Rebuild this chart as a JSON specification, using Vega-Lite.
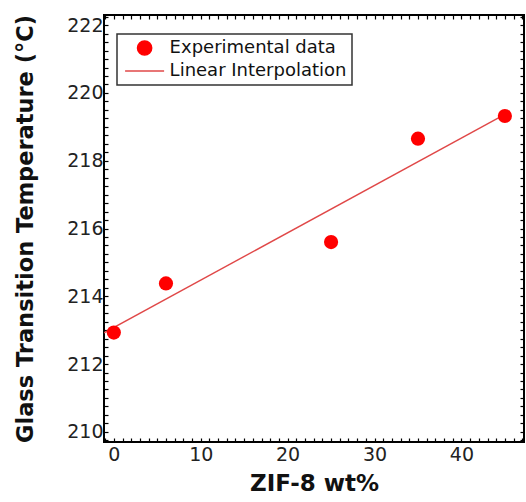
{
  "$schema": "https://vega.github.io/schema/vega-lite/v6.json",
  "width": 420,
  "height": 427,
  "autosize": {"type": "none"},
  "padding": {"left": 104, "top": 15, "right": 2, "bottom": 60},
  "background": "white",
  "config": {
    "view": {"stroke": "#000", "strokeWidth": 2},
    "font": "DejaVu Sans"
  },
  "datasets": {
    "points": [
      {"wt": 0, "tg": 212.93, "series": "Experimental data"},
      {"wt": 6, "tg": 214.38, "series": "Experimental data"},
      {"wt": 25, "tg": 215.6, "series": "Experimental data"},
      {"wt": 35, "tg": 218.65, "series": "Experimental data"},
      {"wt": 45, "tg": 219.32, "series": "Experimental data"}
    ],
    "fit": [
      {"wt": -1.13, "tg": 212.92, "series": "Linear Interpolation"},
      {"wt": 45, "tg": 219.37, "series": "Linear Interpolation"}
    ]
  },
  "resolve": {"axis": {"x": "independent", "y": "independent"}},
  "layer": [
    {
      "data": {"name": "fit"},
      "mark": {"type": "line", "strokeWidth": 1.4, "clip": true},
      "encoding": {
        "x": {
          "field": "wt", "type": "quantitative",
          "scale": {"domain": [-1.13, 47.2], "nice": false, "zero": false},
          "axis": {
            "orient": "top", "labels": false, "title": null, "domain": false, "grid": false,
            "tickSize": -4, "tickColor": "#000", "tickWidth": 1.2,
            "values": [-1,0,1,2,3,4,5,6,7,8,9,10,11,12,13,14,15,16,17,18,19,20,21,22,23,24,25,26,27,28,29,30,31,32,33,34,35,36,37,38,39,40,41,42,43,44,45,46,47],
            "encode": {"ticks": {"update": {"y2": {"signal": "datum.value % 10 === 0 ? 8 : (datum.value % 5 === 0 ? 6 : 4)"}}}}
          }
        },
        "y": {
          "field": "tg", "type": "quantitative",
          "scale": {"domain": [209.7, 222.3], "nice": false, "zero": false},
          "axis": {
            "orient": "right", "labels": false, "title": null, "domain": false, "grid": false,
            "tickSize": -4, "tickColor": "#000", "tickWidth": 1.2,
            "values": [209.75,210,210.25,210.5,210.75,211,211.25,211.5,211.75,212,212.25,212.5,212.75,213,213.25,213.5,213.75,214,214.25,214.5,214.75,215,215.25,215.5,215.75,216,216.25,216.5,216.75,217,217.25,217.5,217.75,218,218.25,218.5,218.75,219,219.25,219.5,219.75,220,220.25,220.5,220.75,221,221.25,221.5,221.75,222,222.25],
            "encode": {"ticks": {"update": {"x2": {"signal": "datum.value % 2 === 0 ? -8 : (datum.value % 1 === 0 ? -6 : -4)"}}}}
          }
        },
        "color": {
          "field": "series", "type": "nominal",
          "scale": {"domain": ["Experimental data", "Linear Interpolation"], "range": ["#ff0000", "#e04848"]},
          "legend": {
            "title": null,
            "orient": "none", "legendX": 13, "legendY": 19,
            "padding": 5, "rowPadding": 3, "labelLimit": 300,
            "symbolSize": 201, "symbolOffset": 13.6, "labelOffset": 16,
            "labelFontSize": 18, "labelColor": "#111",
            "strokeColor": "#333", "fillColor": "white",
            "encode": {
              "legend": {"update": {"strokeWidth": {"value": 1.5}}},
              "symbols": {"update": {
                "shape": {"signal": "datum.value === 'Linear Interpolation' ? 'stroke' : 'circle'"},
                "size": {"signal": "datum.value === 'Linear Interpolation' ? 1521 : 201"},
                "fill": {"signal": "datum.value === 'Linear Interpolation' ? 'transparent' : '#ff0000'"},
                "stroke": {"signal": "datum.value === 'Linear Interpolation' ? '#e04848' : 'transparent'"},
                "strokeWidth": {"value": 1.5},
                "opacity": {"value": 1}
              }}
            }
          }
        }
      }
    },
    {
      "data": {"name": "points"},
      "mark": {"type": "point", "filled": true, "size": 201, "opacity": 1, "shape": "circle"},
      "encoding": {
        "x": {
          "field": "wt", "type": "quantitative",
          "axis": {
            "orient": "bottom", "domain": false, "grid": false,
            "tickSize": -4, "tickColor": "#000", "tickWidth": 1.2,
            "values": [-1,0,1,2,3,4,5,6,7,8,9,10,11,12,13,14,15,16,17,18,19,20,21,22,23,24,25,26,27,28,29,30,31,32,33,34,35,36,37,38,39,40,41,42,43,44,45,46,47],
            "labelExpr": "datum.value % 10 === 0 ? format(datum.value, 'd') : ''",
            "labelOverlap": false, "labelFlush": false,
            "labelPadding": 7, "labelFontSize": 19, "labelColor": "#222",
            "title": "ZIF-8 wt%", "titleFontSize": 23, "titleFontWeight": "bold", "titleColor": "#111", "titlePadding": 8,
            "encode": {"ticks": {"update": {"y2": {"signal": "datum.value % 10 === 0 ? -8 : (datum.value % 5 === 0 ? -6 : -4)"}}}}
          }
        },
        "y": {
          "field": "tg", "type": "quantitative",
          "axis": {
            "orient": "left", "domain": false, "grid": false,
            "tickSize": -4, "tickColor": "#000", "tickWidth": 1.2,
            "values": [209.75,210,210.25,210.5,210.75,211,211.25,211.5,211.75,212,212.25,212.5,212.75,213,213.25,213.5,213.75,214,214.25,214.5,214.75,215,215.25,215.5,215.75,216,216.25,216.5,216.75,217,217.25,217.5,217.75,218,218.25,218.5,218.75,219,219.25,219.5,219.75,220,220.25,220.5,220.75,221,221.25,221.5,221.75,222,222.25],
            "labelExpr": "datum.value % 2 === 0 ? format(datum.value, 'd') : ''",
            "labelOverlap": false, "labelFlush": false,
            "labelPadding": 5, "labelFontSize": 19, "labelColor": "#222",
            "title": "Glass Transition Temperature (°C)", "titleFontSize": 22.5, "titleFontWeight": "bold", "titleColor": "#111", "titlePadding": 29,
            "encode": {"ticks": {"update": {"x2": {"signal": "datum.value % 2 === 0 ? 8 : (datum.value % 1 === 0 ? 6 : 4)"}}}}
          }
        },
        "color": {
          "field": "series", "type": "nominal",
          "legend": {
            "title": null,
            "orient": "none", "legendX": 13, "legendY": 19,
            "padding": 5, "rowPadding": 3, "labelLimit": 300,
            "symbolSize": 201, "symbolOffset": 13.6, "labelOffset": 16,
            "labelFontSize": 18, "labelColor": "#111",
            "strokeColor": "#333", "fillColor": "white",
            "encode": {
              "legend": {"update": {"strokeWidth": {"value": 1.5}}},
              "symbols": {"update": {
                "shape": {"signal": "datum.value === 'Linear Interpolation' ? 'stroke' : 'circle'"},
                "size": {"signal": "datum.value === 'Linear Interpolation' ? 1521 : 201"},
                "fill": {"signal": "datum.value === 'Linear Interpolation' ? 'transparent' : '#ff0000'"},
                "stroke": {"signal": "datum.value === 'Linear Interpolation' ? '#e04848' : 'transparent'"},
                "strokeWidth": {"value": 1.5},
                "opacity": {"value": 1}
              }}
            }
          }
        }
      }
    }
  ]
}
